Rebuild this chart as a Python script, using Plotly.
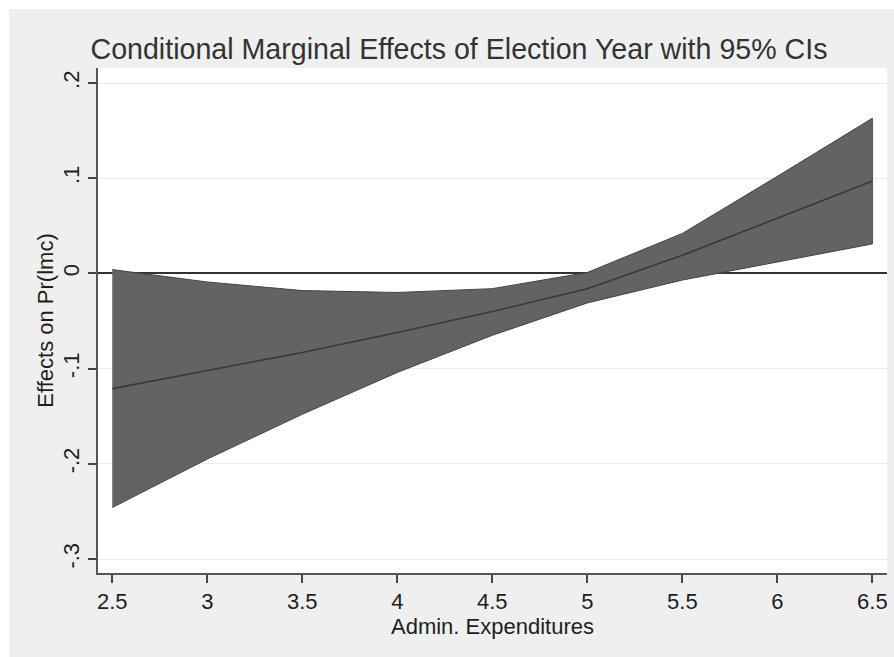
import plotly.graph_objects as go

# Data
x_vals = [2.5, 3.0, 3.5, 4.0, 4.5, 5.0, 5.5, 6.0, 6.5]
upper_ci = [0.004, -0.009, -0.018, -0.020, -0.016, 0.001, 0.042, 0.102, 0.163]
effect = [-0.121, -0.102, -0.083, -0.062, -0.040, -0.016, 0.019, 0.058, 0.097]
lower_ci = [-0.246, -0.195, -0.148, -0.104, -0.065, -0.031, -0.007, 0.012, 0.031]

y_tickvals = [-0.3, -0.2, -0.1, 0.0, 0.1, 0.2]
y_ticktext = ["-.3", "-.2", "-.1", "0", ".1", ".2"]
x_tickvals = [2.5, 3, 3.5, 4, 4.5, 5, 5.5, 6, 6.5]
x_ticktext = ["2.5", "3", "3.5", "4", "4.5", "5", "5.5", "6", "6.5"]

FONT = "Liberation Sans, Arial, sans-serif"
W, H = 894, 657
ML, MR, MT, MB = 98, 7, 68, 84
PW, PH = W - ML - MR, H - MT - MB

fig = go.Figure()

# CI band
fig.add_trace(go.Scatter(
    x=x_vals + x_vals[::-1],
    y=upper_ci + lower_ci[::-1],
    fill="toself",
    fillcolor="#636363",
    line=dict(color="#444444", width=1),
    mode="lines",
    hoverinfo="skip",
    showlegend=False,
))
# Marginal effect line
fig.add_trace(go.Scatter(
    x=x_vals, y=effect, mode="lines",
    line=dict(color="#393939", width=1.6),
    showlegend=False,
))

# white outer margins (top and left strips)
fig.add_shape(type="rect", xref="paper", yref="paper",
              x0=-ML / PW - 0.01, x1=1 + MR / PW + 0.01,
              y0=1 + (MT - 9) / PH, y1=1 + MT / PH + 0.01,
              fillcolor="white", line=dict(width=0), layer="below")
fig.add_shape(type="rect", xref="paper", yref="paper",
              x0=-ML / PW - 0.01, x1=-(ML - 9) / PW,
              y0=-MB / PH - 0.01, y1=1 + MT / PH + 0.01,
              fillcolor="white", line=dict(width=0), layer="below")

fig.update_layout(
    width=W, height=H,
    margin=dict(l=ML, r=MR, t=MT, b=MB, pad=0),
    paper_bgcolor="#efefef",
    plot_bgcolor="white",
    font=dict(family=FONT, size=22, color="#1e1e1e"),
    title=dict(
        text="Conditional Marginal Effects of Election Year with 95% CIs",
        font=dict(family=FONT, size=28.6, color="#333333"),
        x=459 / W, xanchor="center", y=1 - 49 / H, yanchor="middle",
    ),
    showlegend=False,
)

fig.update_xaxes(
    range=[2.425, 6.577],
    tickvals=x_tickvals, ticktext=x_ticktext,
    ticks="outside", ticklen=8, tickwidth=1.5, tickcolor="#444444",
    showline=True, linecolor="#555555", linewidth=1.5,
    showgrid=False, zeroline=False,
    tickfont=dict(size=22, color="#1e1e1e"),
    title=dict(text="Admin. Expenditures", font=dict(size=22, color="#1e1e1e"), standoff=0),
)
fig.update_yaxes(
    range=[-0.3147, 0.2158],
    tickvals=y_tickvals, ticktext=y_ticktext, tickangle=-90,
    ticks="outside", ticklen=8, tickwidth=1.5, tickcolor="#444444",
    showline=True, linecolor="#555555", linewidth=1.5,
    showgrid=True, gridcolor="#ebebeb", gridwidth=1,
    zeroline=True, zerolinecolor="#333333", zerolinewidth=1.6,
    tickfont=dict(size=22, color="#1e1e1e"),
    title=dict(text="Effects on Pr(lmc)", font=dict(size=22, color="#1e1e1e"), standoff=0),
)

fig.write_html("out.html")
